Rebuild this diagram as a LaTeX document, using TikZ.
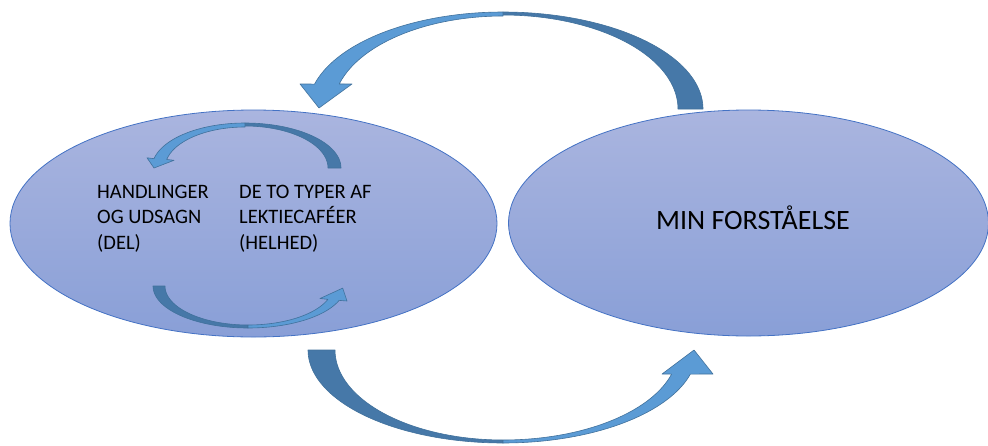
\documentclass[tikz,border=0pt]{standalone}
\usepackage{fontspec}
\setmainfont{Carlito}
\usetikzlibrary{shapes.geometric}

\definecolor{ovalTop}{RGB}{170,181,223}
\definecolor{ovalBottom}{RGB}{137,159,215}
\definecolor{ovalLine}{RGB}{68,114,196}
\definecolor{arrowFront}{RGB}{91,155,213}
\definecolor{arrowBack}{RGB}{70,120,168}
\definecolor{arrowLine}{RGB}{65,113,156}

\tikzset{
  oval/.style={ellipse, draw=ovalLine, line width=0.8pt, inner sep=0pt,
    top color=ovalTop, bottom color=ovalBottom},
  frontpart/.style={fill=arrowFront, draw=arrowLine, line width=0.6pt, line join=round},
  backpart/.style={fill=arrowBack, draw=arrowLine, line width=0.6pt, line join=round},
  label/.style={inner sep=0pt, align=left, font=\fontsize{20.5}{25.5}\selectfont},
  biglabel/.style={inner sep=0pt, font=\fontsize{28}{32}\selectfont}
}

\begin{document}
\begin{tikzpicture}[x=1pt,y=-1pt]
\useasboundingbox (0,0) rectangle (988,445);

% the two ovals
\node[oval, minimum width=487pt, minimum height=227pt] (del) at (253.5,223.5) {};
\node[oval, minimum width=480pt, minimum height=226pt] (min) at (748.5,223) {};

% inner circular arrow, upper half: back part from the right end up to the top
\draw[backpart] plot[domain=360:270, samples=40] ({245+96*cos(\x)},{168+45*sin(\x)})
  -- plot[domain=270:360, samples=40] ({245+83*cos(\x)},{168+42*sin(\x)}) -- cycle;
% front part from the top down to the head on the left
\draw[frontpart] plot[domain=270:192, samples=40] ({245+93*cos(\x)},{168+45*sin(\x)})
  -- (147,157.8) -- (154,168) -- (174,160.3)
  -- plot[domain=192:270, samples=40] ({245+80*cos(\x)},{168+41*sin(\x)}) -- cycle;

% inner circular arrow, lower half
\draw[backpart] plot[domain=180:90, samples=40] ({248+95*cos(\x)},{286+42*sin(\x)})
  -- plot[domain=90:180, samples=40] ({248+83*cos(\x)},{286+39*sin(\x)}) -- cycle;
\draw[frontpart] plot[domain=90:20, samples=40] ({248+97*cos(\x)},{286+42*sin(\x)})
  -- (347,301) -- (342.7,288.1) -- (320,298.5)
  -- plot[domain=20:90, samples=40] ({248+85*cos(\x)},{286+39*sin(\x)}) -- cycle;

% texts (base anchor sits on the last line)
\node[label, anchor=base west] (parts) at (97,249) {HANDLINGER\\OG UDSAGN\\(DEL)};
\node[label, anchor=base west] (whole) at (239,249) {DE TO TYPER AF\\LEKTIECAFÉER\\(HELHED)};
\node[biglabel, anchor=base] (mine) at (753,229) {MIN FORSTÅELSE};

% large arrow over the top: from the right oval back to the left one
\draw[backpart] plot[domain=360:270, samples=60] ({503+200*cos(\x)},{109+97*sin(\x)})
  -- plot[domain=270:360, samples=60] ({503+175*cos(\x)},{109+94*sin(\x)}) -- cycle;
\draw[frontpart] plot[domain=270:194.9, samples=60] ({503+195*cos(\x)},{109+97*sin(\x)})
  -- (300,84) -- (319,108) -- (352,84)
  -- plot[domain=195.6:270, samples=60] ({503+170*cos(\x)},{109+93*sin(\x)}) -- cycle;

% large arrow underneath: from the left oval to the right one
\draw[backpart] plot[domain=180:90, samples=60] ({503+195*cos(\x)},{350+93*sin(\x)})
  -- plot[domain=90:180, samples=60] ({503+168*cos(\x)},{350+90*sin(\x)}) -- cycle;
\draw[frontpart] plot[domain=90:15, samples=60] ({503+194*cos(\x)},{350+93*sin(\x)})
  -- (713,374) -- (694,350) -- (662,374)
  -- plot[domain=15.5:90, samples=60] ({503+175*cos(\x)},{350+90*sin(\x)}) -- cycle;
\end{tikzpicture}
\end{document}
